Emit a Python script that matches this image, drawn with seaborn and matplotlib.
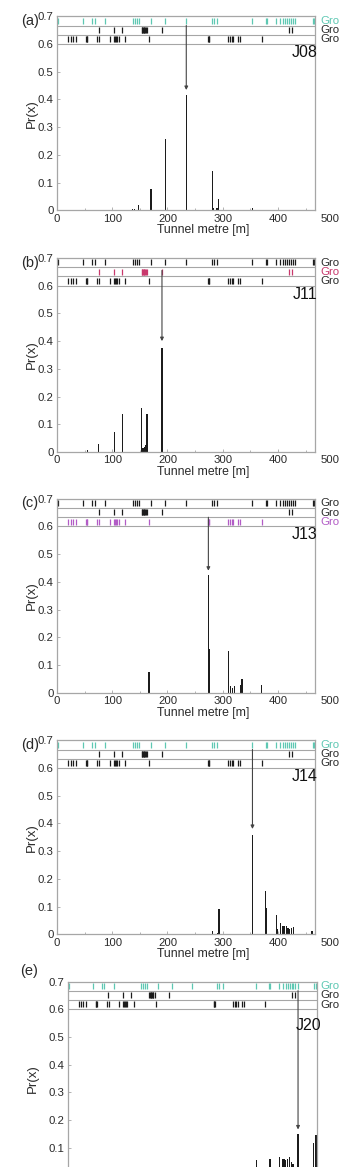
import matplotlib
matplotlib.use('Agg')
import matplotlib.pyplot as plt
from matplotlib.ticker import FuncFormatter, MultipleLocator
import numpy as np
import pandas as pd
import seaborn as sns

# tick positions of the three group strips (tunnel metre), same in every panel
row1_pos = [2.4, 46.6, 63.4, 68.3, 87.5, 138, 141.3, 144.4, 148, 169.7, 195, 233.7, 280.8, 284.4,
            290.4, 353.8, 378, 379.7, 396.7, 404, 408.9, 413, 417, 420.3, 423.4, 427, 431.2, 462.5, 465.6]
row2_pos = [75.5, 103.8, 118.3, 153.4, 154.6, 155.8, 157, 158.2, 159.4, 160.6, 163, 190.2, 420.8, 426]
row3_pos = [20.5, 24.8, 29, 34.4, 52.5, 53.6, 55, 73, 76.6, 96, 103.8, 105.6, 107.4, 109.2, 111.8, 123.7,
            166, 273.6, 274.8, 276, 310.3, 313.4, 316.5, 319.4, 327.4, 331.5, 370.8]

# Pr(x) per panel
a_pos = [137, 140, 147, 170, 196, 234, 281, 283.5, 289.5, 292, 354]
a_pr = [0.006, 0.005, 0.018, 0.078, 0.256, 0.416, 0.141, 0.01, 0.008, 0.042, 0.01]
b_pos = [55, 75.5, 103.5, 118, 153.4, 155.2, 157, 158.8, 160.6, 163, 190]
b_pr = [0.006, 0.03, 0.073, 0.136, 0.158, 0.015, 0.015, 0.018, 0.027, 0.136, 0.375]
c_pos = [166.5, 274, 276.6, 310.3, 313.4, 317.6, 321, 331.5, 335, 370.8]
c_pr = [0.075, 0.425, 0.158, 0.149, 0.025, 0.016, 0.025, 0.028, 0.048, 0.028]
d_pos = [235, 281, 290, 293, 353.8, 376.8, 379.2, 396.7, 398.7, 404.5, 409, 412, 415, 418, 421.5,
         424.5, 428, 461.4]
d_pr = [0.002, 0.013, 0.005, 0.092, 0.358, 0.155, 0.096, 0.069, 0.02, 0.04, 0.03, 0.03, 0.03, 0.024,
        0.018, 0.022, 0.028, 0.012]
e_pos = [354, 378, 380, 397.5, 402.5, 405.5, 409, 412, 416.5, 419.5, 422.5, 432, 461.5, 465.5]
e_pr = [0.055, 0.06, 0.06, 0.065, 0.06, 0.06, 0.055, 0.058, 0.065, 0.05, 0.04, 0.15, 0.116, 0.146]

panel_tags = ['(a)', '(b)', '(c)', '(d)', '(e)']
junctions = ['J08', 'J11', 'J13', 'J14', 'J20']
# strip labels are cut at the right edge of the original figure
group_names = ['Gro', 'Gro', 'Gro']
x_ticks = [0, 100, 200, 300, 400]

# arrow from the group strip down to the chosen location
arrow_x = [234, 190, 274, 353.8, 432]
arrow_top = [0.667, 0.655, 0.633, 0.667, 0.667]
arrow_tip = [0.434, 0.40, 0.44, 0.38, 0.166]

TEAL, PINK, PURPLE, INK = '#5ec8b3', '#c8386c', '#b25cc6', '#1c1c1c'
row_colours = [[TEAL, INK, INK], [INK, PINK, INK], [INK, INK, PURPLE], [TEAL, INK, INK], [TEAL, INK, INK]]
GREY = '#a6a6a6'
TXT = '#2a2a2a'

sns.set_style('white')
plt.rcParams['font.family'] = ['Liberation Sans', 'DejaVu Sans']

W, H = 340, 1167
fig = plt.figure(figsize=(W / 100, H / 100), dpi=100)

# axes boxes in pixels: left, y of zero line, width (panel e runs off the bottom)
boxes = [(57, 210.3, 258), (57, 452, 258), (57, 692.7, 258), (57, 934.3, 258), (67.7, 1175.5, 249)]
ax_h = 194

panels = [(a_pos, a_pr), (b_pos, b_pr), (c_pos, c_pr), (d_pos, d_pr), (e_pos, e_pr)]
rows = [row1_pos, row2_pos, row3_pos]
row_edges = [0.7, 0.6667, 0.6333, 0.6]

for i, (pos, pr) in enumerate(panels):
    left, y0, w = boxes[i]
    last = i == 4
    ax = fig.add_axes([left / W, 1 - y0 / H, w / W, ax_h / H])

    df = pd.DataFrame({'metre': pos, 'pr': pr})
    step = np.min(np.diff(np.sort(df['metre'].values)))
    sns.barplot(data=df, x='metre', y='pr', native_scale=True, width=2.3 / step,
                color=INK, saturation=1, errorbar=None, linewidth=0, ax=ax)

    # group strips
    for r in range(3):
        top, bot = row_edges[r], row_edges[r + 1]
        hgt = top - bot
        col = row_colours[i][r]
        ax.vlines(rows[r], bot + 0.2 * hgt, top - 0.15 * hgt, color=col, lw=0.9)
        fig.text(320 / W, 1 - (y0 - (top + bot) / 2 / 0.7 * ax_h) / H, group_names[r],
                 ha='left', va='center', fontsize=8.2, color=col if col != INK else TXT)
    ax.hlines(row_edges[1:], 0, 1, transform=ax.get_yaxis_transform(), color=GREY, lw=0.8)

    ax.annotate('', xy=(arrow_x[i], arrow_tip[i]), xytext=(arrow_x[i], arrow_top[i]),
                arrowprops=dict(arrowstyle='-|>', color='#444444', lw=0.8, mutation_scale=5,
                                shrinkA=0, shrinkB=0))

    if not last:
        ax.text(472, 0.57, junctions[i], ha='right', va='center', fontsize=11.5, color='#111111')
        ax.text(-0.105, 0.976, panel_tags[i], transform=ax.transAxes, ha='center', va='center',
                fontsize=10.5, color=TXT)
    else:
        ax.text(452, 0.54, junctions[i], ha='center', va='center', fontsize=11.5, color='#111111')
        ax.text(-0.155, 1.053, panel_tags[i], transform=ax.transAxes, ha='center', va='center',
                fontsize=10.5, color=TXT)

    ax.set_xlim(0, 467)
    ax.set_ylim(0, 0.7)
    ax.set_xticks(x_ticks)
    ax.xaxis.set_minor_locator(MultipleLocator(50))
    ax.set_yticks(np.arange(0.1 if last else 0, 0.71, 0.1))
    ax.yaxis.set_major_formatter(FuncFormatter(lambda v, _: '0' if abs(v) < 1e-9 else f'{v:.1f}'))
    ax.tick_params(axis='both', which='major', direction='in', length=2.5, width=0.6, color=GREY,
                   labelsize=8.2, labelcolor=TXT, pad=2.5)
    ax.tick_params(axis='x', which='minor', direction='in', length=1.5, width=0.6, color=GREY)
    ax.tick_params(axis='x', which='both', bottom=True, labelbottom=not last)
    ax.tick_params(axis='y', left=True)

    if not last:
        # the last tick label sits past the right spine, pressed against the figure edge
        ax.annotate('500', xy=(339.5 / W, 0), xycoords=(fig.transFigure, 'axes fraction'), xytext=(0, -2.5),
                    textcoords='offset points', ha='right', va='top', fontsize=8.2, color=TXT,
                    annotation_clip=False)
        ax.set_xlabel('Tunnel metre [m]', fontsize=8.8, color=TXT)
        ax.xaxis.set_label_coords(0.568, -0.072)
    else:
        ax.set_xlabel('')
    ax.set_ylabel('Pr(x)', fontsize=9.5, color=TXT)
    ax.yaxis.set_label_coords(-0.115 if last else -0.074, 0.5)

    for s in ax.spines.values():
        s.set_color(GREY)
        s.set_linewidth(0.9)

fig.savefig('out.png', dpi=100)
